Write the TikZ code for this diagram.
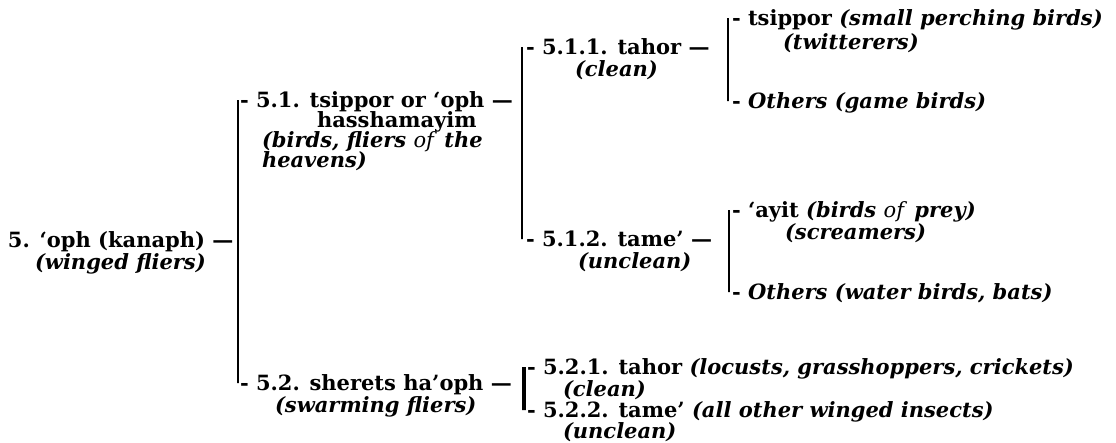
\documentclass[tikz,border=0pt]{standalone}
\usepackage{fontspec}
\setmainfont{DejaVu Serif}
\newcommand\bi[1]{\textit{#1}}
\newcommand\lo[1]{\textmd{\textit{#1}}}
\tikzset{
  lbl/.style={anchor=base west, inner sep=0pt, outer sep=0pt,
    font=\fontsize{21}{21}\selectfont\bfseries},
  thinbrk/.style={line width=1.4pt},
  brk/.style={line width=2.4pt},
  thickbrk/.style={line width=3.4pt},
}
\begin{document}
\begin{tikzpicture}[x=1pt,y=-1pt]
\useasboundingbox (0,0) rectangle (1116,442);
% level 0
\node[lbl] (n5)  at (8,247) {5. ‘oph (kanaph) —};
\node[lbl] (n5b) at (35,269) {\bi{(winged fliers)}};
% level 1
\node[lbl] (n51)  at (240,107) {-\ 5.1. tsippor or ‘oph —};
\node[lbl] (n51b) at (317,127) {hasshamayim};
\node[lbl] (n51c) at (262,147) {\bi{(birds, fliers} \lo{of} \bi{the}};
\node[lbl] (n51d) at (262,167) {\bi{heavens)}};
\node[lbl] (n52)  at (240,390) {-\ 5.2. sherets ha’oph —};
\node[lbl] (n52b) at (275,412) {\bi{(swarming fliers)}};
% level 2
\node[lbl] (n511)  at (526,54)  {-\ 5.1.1. tahor —};
\node[lbl] (n511b) at (575,76)  {\bi{(clean)}};
\node[lbl] (n512)  at (526,246) {-\ 5.1.2. tame’ —};
\node[lbl] (n512b) at (578,268) {\bi{(unclean)}};
\node[lbl] (n521)  at (527,374) {-\ 5.2.1. tahor \bi{(locusts, grasshoppers, crickets)}};
\node[lbl] (n521b) at (563,396) {\bi{(clean)}};
\node[lbl] (n522)  at (527,417) {-\ 5.2.2. tame’ \bi{(all other winged insects)}};
\node[lbl] (n522b) at (563,438) {\bi{(unclean)}};
% level 3
\node[lbl] (n5111)  at (732,25)  {-\ tsippor \bi{(small perching birds)}};
\node[lbl] (n5111b) at (783,49)  {\bi{(twitterers)}};
\node[lbl] (n5112)  at (732,108) {-\ \bi{Others (game birds)}};
\node[lbl] (n5121)  at (732,217) {-\ ‘ayit \bi{(birds} \lo{of} \bi{prey)}};
\node[lbl] (n5121b) at (785,239) {\bi{(screamers)}};
\node[lbl] (n5122)  at (732,299) {-\ \bi{Others (water birds, bats)}};
% brackets
\draw[thinbrk] ([shift={(-2,-7)}]n51.base west) -- ([shift={(-2,-7)}]n51.base west |- n52.base west) -- ++(0,-7);
\draw[brk] ([shift={(-4,-7)}]n511.base west) -- ([shift={(-4,-7)}]n511.base west |- n512.base west) -- ++(0,-7);
\draw[brk] ([shift={(-4,-7)}]n5111.base west) -- ([shift={(-4,-7)}]n5111.base west |- n5112.base west) -- ++(0,-7);
\draw[brk] ([shift={(-3,-7)}]n5121.base west) -- ([shift={(-3,-7)}]n5121.base west |- n5122.base west) -- ++(0,-7);
\draw[thickbrk] ([shift={(-3,-7)}]n521.base west) -- ([shift={(-3,-7)}]n521.base west |- n522.base west) -- ++(0,-7);
\end{tikzpicture}
\end{document}
